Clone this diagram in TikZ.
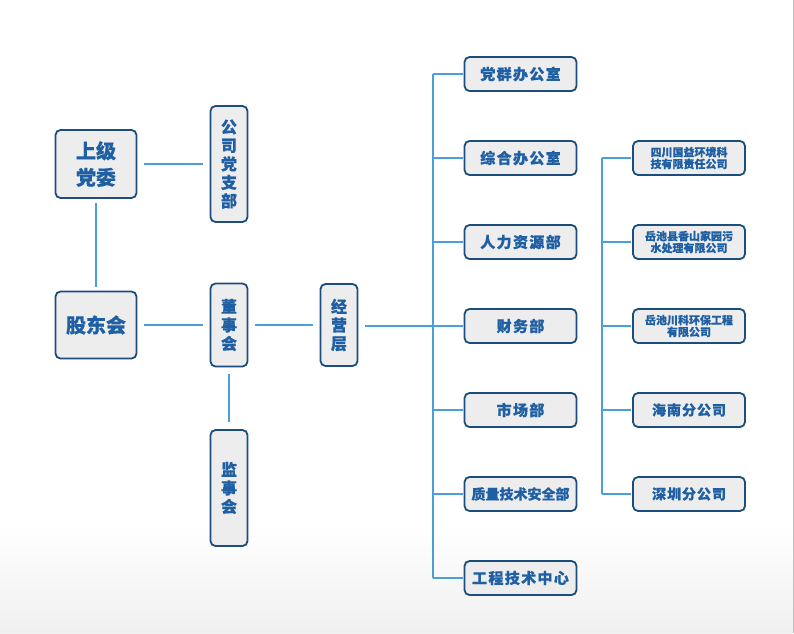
\documentclass[tikz,border=0pt]{standalone}
\usepackage{fontspec}
\setmainfont{Noto Sans CJK SC}[BoldFeatures={FakeBold=0.4}]
\definecolor{boxborder}{HTML}{1B4E7C}
\definecolor{boxfill}{HTML}{EDEDED}
\definecolor{txtblue}{HTML}{1F5FA3}
\definecolor{linec}{HTML}{4A9FD8}
\tikzset{
  box/.style={draw=boxborder, line width=1.8pt, rounded corners=5pt, fill=boxfill,
    text=txtblue, inner sep=0pt, align=center},
  bigbox/.style={box, minimum width=81pt, minimum height=68pt,
    font=\fontsize{20}{26.5}\selectfont\bfseries},
  vbox/.style={box, minimum width=37pt,
    font=\fontsize{16}{18.5}\selectfont\bfseries},
  dept/.style={box, minimum width=112pt, minimum height=34pt,
    font=\fontsize{15}{18}\selectfont\bfseries\addfontfeature{LetterSpace=9}},
  comp/.style={box, minimum width=112pt, minimum height=34pt,
    font=\fontsize{11}{11.8}\selectfont\bfseries},
  compbig/.style={box, minimum width=112pt, minimum height=34pt,
    font=\fontsize{14}{18}\selectfont\bfseries\addfontfeature{LetterSpace=7}},
  conn/.style={draw=linec, line width=1.4pt},
  gap/.style={conn, shorten <=7pt, shorten >=7pt}
}
\begin{document}
\begin{tikzpicture}[x=1pt,y=-1pt]
\useasboundingbox (0,0) rectangle (794,633);
\fill[white] (0,0) rectangle (794,633);
\shade[top color=white, bottom color=black!6] (0,525) rectangle (794,633);
\draw[black!25, line width=0.8pt] (793,0) -- (793,633);

% left part
\node[bigbox] (sjdw) at (96,164) {上级\\党委};
\node[bigbox, minimum height=67pt] (gdh) at (96,325) {股东会};
\node[vbox, minimum height=116pt] (gsdzb) at (229,164) {公\\司\\党\\支\\部};
\node[vbox, minimum height=83pt] (dsh) at (229,325) {董\\事\\会};
\node[vbox, minimum height=82pt] (jyc) at (339,325) {经\\营\\层};
\node[vbox, minimum height=116pt] (jsh) at (229,488) {监\\事\\会};

\draw[gap] (sjdw) -- (gsdzb);
\draw[gap, shorten <=4pt, shorten >=4pt] (sjdw) -- (gdh);
\draw[gap] (gdh) -- (dsh);
\draw[gap] (dsh) -- (jyc);
\draw[gap] (dsh) -- (jsh);

% departments
\node[dept] (d1) at (520.5,74) {党群办公室};
\node[dept] (d2) at (520.5,158) {综合办公室};
\node[dept] (d3) at (520.5,242) {人力资源部};
\node[dept] (d4) at (520.5,326) {财务部};
\node[dept] (d5) at (520.5,410) {市场部};
\node[dept, font=\fontsize{14}{18}\selectfont\bfseries] (d6) at (520.5,494) {质量技术安全部};
\node[dept] (d7) at (520.5,578) {工程技术中心};

\coordinate (tx) at (433,0);
\draw[conn] (tx |- d1) -- (tx |- d7);
\draw[conn, shorten <=7pt, shorten >=1pt] (jyc.east |- d4) -- (d4.west);
\foreach \d in {d1,d2,d3,d5,d6,d7}
  \draw[conn, shorten >=1pt] (tx |- \d) -- (\d.west);

% companies
\node[comp] (c1) at (689,158) {四川国益环境科\\技有限责任公司};
\node[comp] (c2) at (689,242) {岳池县香山家园污\\水处理有限公司};
\node[comp] (c3) at (689,326) {岳池川科环保工程\\有限公司};
\node[compbig] (c4) at (689,410) {海南分公司};
\node[compbig] (c5) at (689,494) {深圳分公司};

\coordinate (cx) at (602,0);
\draw[conn] (cx |- c1) -- (cx |- c5);
\foreach \c in {c1,c2,c3,c4,c5}
  \draw[conn, shorten >=1pt] (cx |- \c) -- (\c.west);
\end{tikzpicture}
\end{document}
